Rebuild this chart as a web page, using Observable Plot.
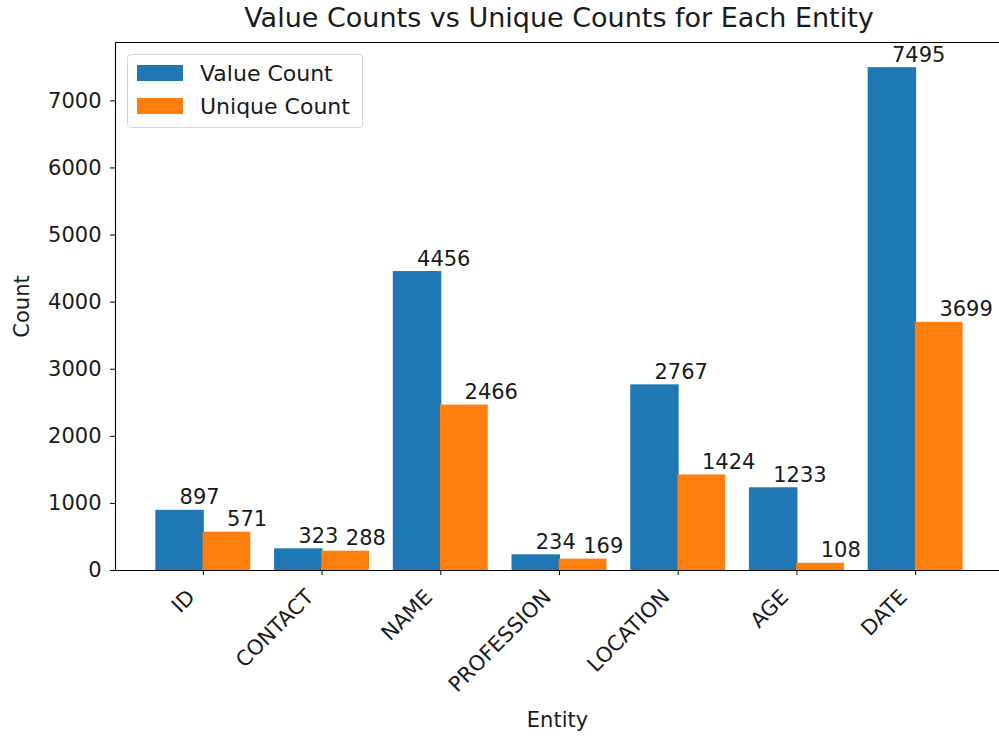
<!DOCTYPE html>
<html>
<head>
<meta charset="utf-8">
<script src="https://cdn.jsdelivr.net/npm/d3@7"></script>
<script src="https://cdn.jsdelivr.net/npm/@observablehq/plot@0.6"></script>
<style>
  html, body { margin: 0; padding: 0; background: white; overflow: hidden; }
  #wrap { position: relative; width: 999px; height: 739px; overflow: hidden; font-family: "DejaVu Sans", sans-serif; color: #1a1a1a; }
  #title { position: absolute; left: 0; top: 2px; width: 1118px; text-align: center; font-size: 27px; line-height: 32px; white-space: nowrap; }
  #legend { position: absolute; left: 127px; top: 54px; width: 234px; height: 72px; border: 1px solid #d6d6d6; border-radius: 4px; background: rgba(255,255,255,0.8); box-sizing: content-box; }
  .item { position: absolute; left: 9px; height: 20px; display: flex; align-items: center; font-size: 22px; white-space: nowrap; }
  .sw { width: 46px; height: 16px; margin-right: 17px; }
</style>
</head>
<body>
<div id="wrap">
  <div id="chart"></div>
  <div id="title"></div>
  <div id="legend"></div>
</div>
<script>
const titleText = "Value Counts vs Unique Counts for Each Entity";
const entities = ["ID", "CONTACT", "NAME", "PROFESSION", "LOCATION", "AGE", "DATE"];
const valueCounts = [897, 323, 4456, 234, 2767, 1233, 7495];
const uniqueCounts = [571, 288, 2466, 169, 1424, 108, 3699];
const series = ["Value Count", "Unique Count"];
const colors = ["#1f77b4", "#ff7f0e"];
const yTicks = [0, 1000, 2000, 3000, 4000, 5000, 6000, 7000];

const valueRows = entities.map((e, i) => ({entity: e, series: series[0], value: valueCounts[i]}));
const uniqueRows = entities.map((e, i) => ({entity: e, series: series[1], value: uniqueCounts[i]}));

// The axes box runs a few pixels past the right edge of the picture (cropped there).
const W = 999, H = 739, mL = 115, mR = 0, mT = 42, mB = 169;
const xRight = 1003;
const pIn = 0.2, pOut = 0.34;
const step = (xRight - mL) / (entities.length - pIn + 2 * pOut);
const half = step * (1 - pIn) / 2;
const leftOffset = step * (pOut + (1 - pIn) / 2); // first band centre -> axes left edge
const yMax = Math.max(...valueCounts) * 1.05;

const chart = Plot.plot({
  width: W, height: H,
  marginLeft: mL, marginRight: mR, marginTop: mT, marginBottom: mB,
  style: {fontFamily: "DejaVu Sans", fontSize: "21px", color: "#1a1a1a", background: "white"},
  x: {type: "band", domain: entities, range: [mL, xRight], paddingInner: pIn, paddingOuter: pOut, align: 0.5, round: false},
  y: {domain: [0, yMax]},
  color: {domain: series, range: colors},
  marks: [
    Plot.barY(valueRows, {x: "entity", y: "value", fill: "series", stroke: "none", insetRight: half - 1}),
    Plot.barY(uniqueRows, {x: "entity", y: "value", fill: "series", stroke: "none", insetLeft: half - 0.3}),
    Plot.text(valueRows, {x: "entity", y: "value", text: d => String(d.value), textAnchor: "start", lineAnchor: "bottom", dx: -half / 2, dy: -6, fill: "#1a1a1a"}),
    Plot.text(uniqueRows, {x: "entity", y: "value", text: d => String(d.value), textAnchor: "start", lineAnchor: "bottom", dx: half / 2, dy: -6, fill: "#1a1a1a"}),
    Plot.axisY({ticks: yTicks, tickFormat: d => String(d), tickSize: 5, tickPadding: 9, stroke: "black", label: "Count", labelAnchor: "center", labelOffset: 101, labelArrow: "none"}),
    Plot.axisX({tickSize: 5, tickFormat: () => "", stroke: "black", label: "Entity", labelAnchor: "center", labelOffset: 156, labelArrow: "none"}),
    Plot.axisX({tickSize: 0, tickPadding: 11, tickRotate: -45, dx: -12, dy: 12, label: null}),
    Plot.ruleY([0, yMax], {stroke: "black", strokeWidth: 1.1}),
    Plot.ruleX([entities[0]], {x: d => d, y1: 0, y2: yMax, dx: -leftOffset, stroke: "black", strokeWidth: 1.1})
  ]
});
document.getElementById("chart").appendChild(chart);
document.getElementById("title").textContent = titleText;

const legend = document.getElementById("legend");
series.forEach((s, i) => {
  const item = document.createElement("div");
  item.className = "item";
  item.style.top = (8 + i * 33) + "px";
  const sw = document.createElement("div");
  sw.className = "sw";
  sw.style.background = colors[i];
  const label = document.createElement("span");
  label.textContent = s;
  item.appendChild(sw);
  item.appendChild(label);
  legend.appendChild(item);
});
</script>
</body>
</html>
